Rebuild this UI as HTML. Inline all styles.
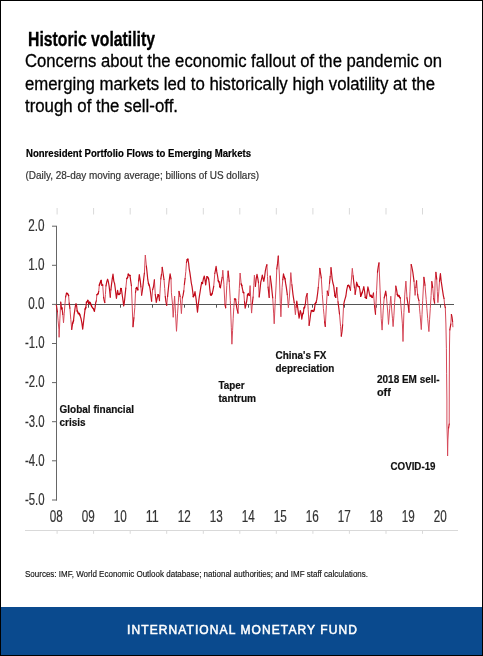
<!DOCTYPE html>
<html><head><meta charset="utf-8">
<style>
html,body{margin:0;padding:0;background:#fff;}
body{width:483px;height:656px;overflow:hidden;position:relative;}
svg{position:absolute;left:0;top:0;display:block;will-change:transform;}
text{font-family:"Liberation Sans",sans-serif;}
</style></head>
<body>
<svg width="483" height="656" viewBox="0 0 483 656">
<rect x="0" y="0" width="483" height="656" fill="#fff"/>
<!-- heading -->
<text x="28" y="45.7" font-size="20.3" font-weight="bold" fill="#000" stroke="#000" stroke-width="0.35" textLength="127" lengthAdjust="spacingAndGlyphs">Historic volatility</text>
<text x="25" y="67.4" font-size="18.3" fill="#000" stroke="#000" stroke-width="0.3" textLength="417" lengthAdjust="spacingAndGlyphs">Concerns about the economic fallout of the pandemic on</text>
<text x="25" y="89.5" font-size="18.3" fill="#000" stroke="#000" stroke-width="0.3" textLength="410" lengthAdjust="spacingAndGlyphs">emerging markets led to historically high volatility at the</text>
<text x="25" y="111.8" font-size="18.3" fill="#000" stroke="#000" stroke-width="0.3" textLength="153" lengthAdjust="spacingAndGlyphs">trough of the sell-off.</text>
<!-- chart title -->
<text x="26" y="157" font-size="11" font-weight="bold" fill="#000" stroke="#000" stroke-width="0.2" textLength="225" lengthAdjust="spacingAndGlyphs">Nonresident Portfolio Flows to Emerging Markets</text>
<text x="25.5" y="179.2" font-size="11" fill="#333" stroke="#333" stroke-width="0.2" textLength="233.5" lengthAdjust="spacingAndGlyphs">(Daily, 28-day moving average; billions of US dollars)</text>
<!-- faint artifacts -->
<g stroke="#d9d9d9" stroke-width="1">
<path d="M57.1 208v6.5M93.6 208v6.5M130.2 208v6.5M166.7 208v6.5M203.3 208v6.5M239.8 208v6.5M276.3 208v6.5M312.9 208v6.5M349.4 208v6.5M386.0 208v6.5M422.5 208v6.5"/>
<path d="M25 530.5H458M57.1 530v3.8M93.6 530v3.8M130.2 530v3.8M166.7 530v3.8M203.3 530v3.8M239.8 530v3.8M276.3 530v3.8M312.9 530v3.8M349.4 530v3.8M386.0 530v3.8M422.5 530v3.8"/>
</g>
<!-- axes -->
<g stroke="#666" stroke-width="1" fill="none">
<path d="M56.5 226V500.5"/>
<path d="M52 226.2H57M52 265.3H57M52 304.4H57M52 343.5H57M52 382.6H57M52 421.7H57M52 460.8H57M52 500H57"/>
</g>
<g font-size="15.8" fill="#333" stroke="#333" stroke-width="0.2" text-anchor="end" transform="translate(0 0.4)">
<text x="44.5" y="230.7" textLength="16.3" lengthAdjust="spacingAndGlyphs">2.0</text>
<text x="44.5" y="269.8" textLength="16.3" lengthAdjust="spacingAndGlyphs">1.0</text>
<text x="44.5" y="308.9" textLength="16.3" lengthAdjust="spacingAndGlyphs">0.0</text>
<text x="44.5" y="348.0" textLength="19.6" lengthAdjust="spacingAndGlyphs">-1.0</text>
<text x="44.5" y="387.1" textLength="19.6" lengthAdjust="spacingAndGlyphs">-2.0</text>
<text x="44.5" y="426.2" textLength="19.6" lengthAdjust="spacingAndGlyphs">-3.0</text>
<text x="44.5" y="465.3" textLength="19.6" lengthAdjust="spacingAndGlyphs">-4.0</text>
<text x="44.5" y="504.4" textLength="19.6" lengthAdjust="spacingAndGlyphs">-5.0</text>
</g>
<g font-size="16" fill="#333" stroke="#333" stroke-width="0.2" text-anchor="middle">
<text x="56.3" y="521.6" textLength="13" lengthAdjust="spacingAndGlyphs">08</text>
<text x="88.3" y="521.6" textLength="13" lengthAdjust="spacingAndGlyphs">09</text>
<text x="120.3" y="521.6" textLength="13" lengthAdjust="spacingAndGlyphs">10</text>
<text x="152.3" y="521.6" textLength="13" lengthAdjust="spacingAndGlyphs">11</text>
<text x="184.3" y="521.6" textLength="13" lengthAdjust="spacingAndGlyphs">12</text>
<text x="216.3" y="521.6" textLength="13" lengthAdjust="spacingAndGlyphs">13</text>
<text x="248.3" y="521.6" textLength="13" lengthAdjust="spacingAndGlyphs">14</text>
<text x="280.3" y="521.6" textLength="13" lengthAdjust="spacingAndGlyphs">15</text>
<text x="312.3" y="521.6" textLength="13" lengthAdjust="spacingAndGlyphs">16</text>
<text x="344.3" y="521.6" textLength="13" lengthAdjust="spacingAndGlyphs">17</text>
<text x="376.3" y="521.6" textLength="13" lengthAdjust="spacingAndGlyphs">18</text>
<text x="408.3" y="521.6" textLength="13" lengthAdjust="spacingAndGlyphs">19</text>
<text x="440.3" y="521.6" textLength="13" lengthAdjust="spacingAndGlyphs">20</text>
</g>
<!-- zero line -->
<path d="M56.5 304.5H454M88.5 304.4v3.3M120.5 304.4v3.3M152.5 304.4v3.3M184.5 304.4v3.3M216.5 304.4v3.3M248.5 304.4v3.3M280.5 304.4v3.3M312.5 304.4v3.3M344.5 304.4v3.3M376.5 304.4v3.3M408.5 304.4v3.3M440.5 304.4v3.3" stroke="#555" stroke-width="1" fill="none"/>
<!-- series -->
<g id="series" fill="none" stroke-linejoin="round" stroke-linecap="round"><path d="M57.4 311.8 58.1 320.8 58.9 329.2 59.1 337.3 59.9 318.9 60.7 302.2M62.8 314.3 63.5 322.8 64.2 313.8 64.9 304.9 65.6 297.0M68.6 295.5 69.2 303.1M69.9 308.2 70.8 319.4 71.7 329.4M96.3 300.9 96.9 294.8M98.7 291.5 99.3 285.2M102.7 285.0 103.6 297.3M104.8 302.6 105.4 294.6 106.0 285.9M110.3 297.1 110.9 289.9M125.8 288.2 126.8 278.6M131.4 285.7 132.1 303.2 133.0 326.7M133.9 317.9 134.8 307.6 135.5 292.5M137.9 289.9 138.6 280.9M140.9 286.8 141.6 295.1M144.4 273.0 145.3 255.0 146.4 266.2M151.6 301.1 152.6 289.7M154.4 279.9 155.3 294.6M159.5 300.6 160.2 288.9 160.8 278.9M161.5 274.3 162.2 267.3M164.0 279.5 164.7 288.5 165.3 296.7M166.7 305.4 167.6 296.4M171.0 278.8 171.4 292.8 172.4 303.0 173.2 317.3 173.9 306.3 174.6 296.1 175.5 313.2 176.5 331.3 177.6 313.1 178.3 302.5 179.0 291.4M180.1 296.5 180.8 305.1 181.4 313.6 182.4 297.9M183.8 290.9 184.4 284.3M185.1 278.5 185.8 271.5 186.5 262.4M213.7 286.3 214.8 273.5M222.2 277.3 222.8 270.2 223.9 284.3 224.9 304.4M225.7 307.8 226.8 285.4 227.4 278.2 228.1 271.1M229.2 281.2 230.3 300.6 231.3 327.2 231.9 344.2 232.6 330.3 233.2 318.2 233.8 307.6 234.5 299.0M238.0 313.2 238.7 300.4 239.3 288.5 240.1 273.0 241.2 284.0M243.8 292.8 244.5 301.7M249.3 295.4 250.1 285.6 250.9 302.3 251.6 313.1 252.3 303.9M253.1 297.0 253.8 285.7 254.4 275.2 255.4 286.3M258.5 282.7 259.2 296.9M266.9 264.7 267.5 276.5 268.1 287.2M269.2 297.4 270.2 276.0M272.7 297.7 273.7 313.9 274.2 323.8 275.3 299.7 276.1 285.1 276.8 268.8M278.3 256.0 279.4 275.0 280.3 303.4 280.9 316.8 281.5 301.1 282.1 287.4 282.8 279.6M287.3 294.7 288.4 307.7 289.0 301.1 289.6 294.0 290.8 272.6 291.9 284.8M294.2 302.4 295.4 314.7 296.1 307.1M307.2 293.5 308.2 309.6 309.1 325.4M318.3 287.3 319.1 277.5 319.8 268.4M321.3 277.9 322.3 294.4 323.4 308.4 324.0 314.8 324.6 321.8M325.3 326.4 326.4 305.5 327.3 291.1M328.4 295.5 329.5 283.3M330.2 276.4 331.0 267.7M336.8 287.6 338.0 301.8M339.5 314.0 340.6 326.7 341.3 336.2M342.6 324.9 343.6 305.2M350.5 290.3 351.4 280.0 352.3 268.3 353.1 275.9M354.5 287.8 355.1 294.3M373.5 293.0 374.5 305.5M375.5 314.1 376.6 290.4 377.5 272.2M379.0 262.9 380.1 290.1 381.2 318.5 382.1 330.1 383.2 310.1 384.2 297.8M386.4 295.8 387.0 303.3 387.8 313.0 388.5 324.4 389.7 308.6 390.8 296.2 391.8 311.0 392.5 318.8 393.1 326.6 393.9 315.8 394.6 302.5 395.8 286.2M400.3 298.1 401.3 310.1 402.4 323.9 403.0 341.5 403.9 312.5 404.8 294.1 405.9 281.1 407.0 297.9M409.0 312.3 410.0 291.2 411.2 264.5M414.0 281.2 415.1 295.4 415.9 287.5M416.6 280.8 417.6 294.2M418.9 300.4 419.5 308.2 420.1 314.6 421.3 329.6 422.0 314.8 422.7 300.2 423.9 277.3M425.0 285.2 426.2 299.4 426.9 308.7 427.7 318.7 428.9 331.6 429.6 319.2 430.3 308.3 431.1 295.5 431.8 281.7M432.7 287.3 433.7 298.6M434.6 303.2 435.1 280.9 435.9 272.3M436.7 279.0 437.3 291.3 437.9 302.6 438.8 291.9 439.5 281.1M444.0 298.4 444.6 304.6M445.3 307.6 445.9 324.0 446.4 348.8 446.6 373.2 446.9 400.0 446.9 424.0 447.4 440.0 447.6 456.0 447.9 440.0 448.6 428.0M449.2 424.0 449.3 380.0 449.5 345.0 449.8 329.8M450.8 324.1 451.4 314.5M452.6 321.5 452.9 326.8" stroke="#d64a5a" stroke-width="1.0"/><path d="M56.4 305.1 57.4 311.8M60.7 302.2 61.6 308.8M62.0 308.0 62.8 314.3M65.6 297.0 66.5 293.3M69.2 303.1 69.9 308.2M71.7 329.4 72.6 323.4M73.5 320.8 74.1 314.9 74.7 310.9 75.3 306.5 76.0 303.7 76.6 305.8 77.2 310.9M79.9 315.0 81.1 318.8 81.9 323.2 82.7 329.1 83.5 322.3 84.3 315.5 85.1 309.1M85.8 307.6 86.5 302.2M87.9 300.3 88.7 303.6M94.4 311.1 95.1 307.4 95.7 302.7 96.3 300.9M98.1 293.8 98.7 291.5M101.1 280.4 101.9 285.1M103.6 297.3 104.2 300.5 104.8 302.6M106.0 285.9 106.8 281.6 107.6 279.2 108.3 281.5 109.1 286.0 109.7 291.1 110.3 297.1M110.9 289.9 111.5 284.6 112.2 279.2 113.0 274.0 113.8 281.1 114.6 283.6 115.2 288.0 115.8 293.3 116.4 298.3 117.6 290.4 118.3 294.2M120.0 293.5 120.7 288.5M121.3 288.7 121.9 292.7 122.5 297.0 123.1 301.2 123.7 306.0 124.3 302.8 124.9 297.1 125.8 288.2M127.6 277.3 128.3 274.2M130.0 275.4 130.7 280.9 131.4 285.7M133.0 326.7 133.9 317.9M135.5 292.5 136.2 288.4M138.6 280.9 139.3 274.5 140.3 281.2 140.9 286.8M141.6 295.1 142.3 291.0 143.0 285.6 143.7 278.7 144.4 273.0M146.4 266.2 147.1 272.7 147.8 279.7 148.5 283.5M149.2 285.3 149.8 287.5 150.5 292.1 151.6 301.1M152.6 289.7 153.5 286.8 154.4 279.9M155.3 294.6 156.3 302.4 157.2 298.0 158.1 294.7M158.8 295.7 159.5 300.6M160.8 278.9 161.5 274.3M162.2 267.3 163.1 273.5 164.0 279.5M165.3 296.7 166.0 302.0 166.7 305.4M167.6 296.4 168.4 288.2 169.2 280.8 170.1 273.9 171.0 278.8M179.0 291.4 180.1 296.5M182.4 297.9 183.1 295.2 183.8 290.9M184.4 284.3 185.1 278.5M186.5 262.4 187.2 259.6M187.9 259.2 188.6 263.0 189.2 268.8 189.9 272.6 190.6 277.7 191.3 283.0 192.0 286.4 192.7 291.4 193.3 296.7M194.2 295.1 195.0 291.6 196.1 299.1 196.8 305.7 197.5 312.2 198.3 304.6 199.2 297.5 200.1 291.9 200.9 286.7 201.7 282.5M202.5 283.4 203.4 278.8 204.3 276.0 205.0 279.8 205.7 285.0 206.3 280.3 207.0 276.7M208.6 279.0 209.2 282.8 209.8 289.2 210.5 294.8M212.1 293.7 212.9 290.6 213.7 286.3M214.8 273.5 215.4 270.5 216.1 266.4 216.8 271.9 217.5 275.5 218.3 280.8M219.1 282.0 219.8 286.5M220.4 287.6 221.5 281.2 222.2 277.3M224.9 304.4 225.7 307.8M228.1 271.1 229.2 281.2M235.6 299.1 236.7 307.3 237.3 310.1 238.0 313.2M241.8 285.6 242.5 289.2 243.2 292.3M244.5 301.7 245.2 308.2 245.9 304.8 246.7 301.1 247.5 295.1M252.3 303.9 253.1 297.0M255.4 286.3 256.2 278.8 257.0 274.3 257.8 278.3 258.5 282.7M259.2 296.9 260.0 289.6 260.8 282.0 261.6 279.0 262.3 275.1 263.1 278.3 263.8 281.4 264.6 276.8 265.3 271.2 266.1 267.3 266.9 264.7M268.1 287.2 269.2 297.4M270.2 276.0 271.4 284.9 272.0 291.3 272.7 297.7M276.8 268.8 277.6 263.4 278.3 256.0M282.8 279.6 283.5 273.8 284.2 277.1M285.0 278.8 285.6 283.2 286.3 287.2 287.3 294.7M291.9 284.8 293.0 294.6 294.2 302.4M296.1 307.1 296.8 301.0 298.0 309.9 299.1 318.2 300.3 310.5 301.1 313.2 301.8 319.2 302.6 314.2M303.3 313.0 304.0 308.0M304.6 307.2 305.4 303.8 306.1 297.2 307.2 293.5M309.1 325.4 309.9 319.8 310.7 313.5 311.4 310.7M314.4 309.2 315.2 303.6M316.0 302.6 316.8 299.4 317.6 293.5 318.3 287.3M319.8 268.4 320.6 273.7 321.3 277.9M324.6 321.8 325.3 326.4M327.3 291.1 328.4 295.5M329.5 283.3 330.2 276.4M331.0 267.7 332.2 279.1 332.9 283.0 333.7 285.9 334.9 295.6M335.7 297.3 336.8 287.6M338.0 301.8 338.8 308.0 339.5 314.0M341.3 336.2 342.0 331.4 342.6 324.9M343.6 305.2 344.4 301.1 345.2 298.4 345.9 296.0 346.7 289.9 347.7 285.6M349.6 287.3 350.5 290.3M353.1 275.9 353.8 282.5 354.5 287.8M355.1 294.3 355.9 289.1 356.6 282.2 357.4 284.7M359.2 286.6 359.9 289.9 360.7 296.3M362.3 292.2 363.1 289.6 363.8 286.7 364.6 291.5 365.3 297.4M366.4 298.3 367.1 293.3 367.9 286.8 368.6 289.8 369.4 293.7 370.2 296.1M372.5 297.4 373.5 293.0M374.5 305.5 375.5 314.1M377.5 272.2 378.2 267.2 379.0 262.9M384.2 297.8 384.9 295.0 385.7 291.1 386.4 295.8M395.8 286.2 396.6 289.9 397.3 294.4M407.0 297.9 408.2 305.7 409.0 312.3M411.2 264.5 412.0 267.9 412.8 272.0 414.0 281.2M415.9 287.5 416.6 280.8M417.6 294.2 418.2 298.1 418.9 300.4M423.9 277.3 425.0 285.2M431.8 281.7 432.7 287.3M433.7 298.6 434.6 303.2M435.9 272.3 436.7 279.0M439.5 281.1 440.4 273.5 441.2 281.4 442.2 288.2 443.4 295.8 444.0 298.4M444.6 304.6 445.3 307.6M448.6 428.0 449.2 424.0M449.8 329.8 450.8 324.1M451.4 314.5 452.0 317.2 452.6 321.5" stroke="#c41020" stroke-width="1.2"/><path d="M61.6 308.8 62.0 308.0M66.5 293.3 67.4 293.4 68.6 295.5M72.6 323.4 73.5 320.8M77.2 310.9 77.8 312.1 78.4 313.8 79.2 313.3 79.9 315.0M85.1 309.1 85.8 307.6M86.5 302.2 87.2 301.9 87.9 300.3M88.7 303.6 89.4 302.1 90.2 302.7 91.0 304.8 91.8 306.6 92.7 307.9 93.5 308.7 94.4 311.1M96.9 294.8 98.1 293.8M99.3 285.2 100.2 282.8 101.1 280.4M101.9 285.1 102.7 285.0M118.3 294.2 119.1 294.5 120.0 293.5M120.7 288.5 121.3 288.7M126.8 278.6 127.6 277.3M128.3 274.2 129.2 275.6 130.0 275.4M136.2 288.4 136.8 287.4 137.9 289.9M148.5 283.5 149.2 285.3M158.1 294.7 158.8 295.7M187.2 259.6 187.9 259.2M193.3 296.7 194.2 295.1M201.7 282.5 202.5 283.4M207.0 276.7 207.9 277.4 208.6 279.0M210.5 294.8 211.3 295.2 212.1 293.7M218.3 280.8 219.1 282.0M219.8 286.5 220.4 287.6M234.5 299.0 235.6 299.1M241.2 284.0 241.8 285.6M243.2 292.3 243.8 292.8M247.5 295.1 248.3 293.6 249.3 295.4M284.2 277.1 285.0 278.8M302.6 314.2 303.3 313.0M304.0 308.0 304.6 307.2M311.4 310.7 312.2 310.4 312.9 311.4 313.7 311.3 314.4 309.2M315.2 303.6 316.0 302.6M334.9 295.6 335.7 297.3M347.7 285.6 348.7 285.2 349.6 287.3M357.4 284.7 358.1 286.5 359.2 286.6M360.7 296.3 361.5 294.3 362.3 292.2M365.3 297.4 366.4 298.3M370.2 296.1 371.0 295.3 371.8 297.3 372.5 297.4M397.3 294.4 398.1 296.2 399.0 295.4 399.6 297.3 400.3 298.1" stroke="#c00010" stroke-width="1.45"/></g>
<!-- annotations -->
<g font-size="11.7" font-weight="bold" fill="#111" stroke="#111" stroke-width="0.2" transform="translate(0 0.5)">
<text x="59.5" y="412.1" textLength="74.5" lengthAdjust="spacingAndGlyphs">Global financial</text>
<text x="59.5" y="425.7" textLength="26" lengthAdjust="spacingAndGlyphs">crisis</text>
<text x="218.5" y="388.4" textLength="26.2" lengthAdjust="spacingAndGlyphs">Taper</text>
<text x="218.5" y="401.9" textLength="37.6" lengthAdjust="spacingAndGlyphs">tantrum</text>
<text x="275.5" y="358.5" textLength="51" lengthAdjust="spacingAndGlyphs">China's FX</text>
<text x="275.5" y="371.8" textLength="58.8" lengthAdjust="spacingAndGlyphs">depreciation</text>
<text x="377" y="382.1" textLength="62.6" lengthAdjust="spacingAndGlyphs">2018 EM sell-</text>
<text x="377" y="395.6" textLength="13.8" lengthAdjust="spacingAndGlyphs">off</text>
<text x="390.5" y="469.4" textLength="45" lengthAdjust="spacingAndGlyphs">COVID-19</text>
</g>
<text x="25" y="577.4" font-size="9.5" fill="#111" stroke="#111" stroke-width="0.15" textLength="343" lengthAdjust="spacingAndGlyphs">Sources: IMF, World Economic Outlook database; national authorities; and IMF staff calculations.</text>
<!-- footer -->
<rect x="1" y="607" width="481" height="48" fill="#0a4a8e"/>
<text x="127" y="633.6" font-size="12" fill="#fff" stroke="#fff" stroke-width="0.5" textLength="230" lengthAdjust="spacing">INTERNATIONAL MONETARY FUND</text>
<!-- border -->
<rect x="0.5" y="0.5" width="482" height="655" fill="none" stroke="#000" stroke-width="1"/>
</svg>
</body></html>
